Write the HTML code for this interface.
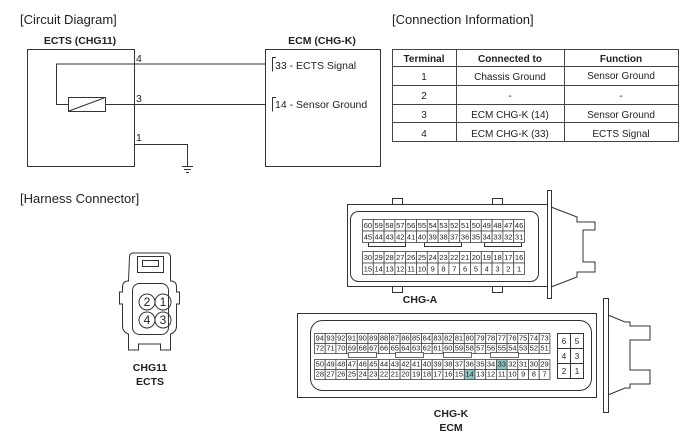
<!DOCTYPE html>
<html><head><meta charset="utf-8"><style>
html,body{margin:0;padding:0;background:#fff;}
svg{display:block;font-family:"Liberation Sans",sans-serif;}
</style></head><body>
<svg id="s" width="700" height="442" viewBox="0 0 700 442" xmlns="http://www.w3.org/2000/svg">
<g fill="#222" font-size="13">
<text x="20" y="24">[Circuit Diagram]</text>
<text x="392" y="24">[Connection Information]</text>
<text x="20" y="203">[Harness Connector]</text>
</g>
<g font-size="10.5" font-weight="bold" text-anchor="middle" fill="#222">
<text x="80" y="44">ECTS (CHG11)</text>
<text x="322" y="44">ECM (CHG-K)</text>
<text x="420" y="303">CHG-A</text>
<text x="451" y="417">CHG-K</text>
<text x="451" y="431">ECM</text>
<text x="150" y="371">CHG11</text>
<text x="150" y="385">ECTS</text>
</g>
<g stroke="#333" fill="none" stroke-width="1">
<rect x="27.5" y="49.5" width="107" height="117"/>
<rect x="265.5" y="49.5" width="115" height="117"/>
<polyline points="266,64 56.5,64 56.5,104.5 68,104.5"/>
<rect x="68.5" y="97.5" width="37" height="14"/>
<line x1="69" y1="111" x2="104" y2="98"/>
<line x1="105" y1="104.5" x2="266" y2="104.5"/>
<polyline points="134,144.5 187.5,144.5 187.5,166"/>
<line x1="182" y1="166.5" x2="193" y2="166.5"/>
<line x1="184" y1="169.5" x2="191" y2="169.5"/>
<line x1="186" y1="172.5" x2="189" y2="172.5"/>
<polyline points="276,57.5 272.5,57.5 272.5,71.5"/>
<polyline points="276,97.5 272.5,97.5 272.5,111.5"/>
</g>
<g font-size="10.5" fill="#222">
<text x="136" y="62">4</text><text x="136" y="102">3</text><text x="136" y="141">1</text>
<text x="275" y="69">33 - ECTS Signal</text>
<text x="275" y="108">14 - Sensor Ground</text>
</g>
<!-- table -->
<g stroke="#444" fill="none">
<rect x="392.5" y="49.5" width="286" height="92"/>
<line x1="392" y1="66.5" x2="678" y2="66.5"/>
<line x1="392" y1="85.5" x2="678" y2="85.5"/>
<line x1="392" y1="104.5" x2="678" y2="104.5"/>
<line x1="392" y1="122.5" x2="678" y2="122.5"/>
<line x1="456.5" y1="49" x2="456.5" y2="141"/>
<line x1="564.5" y1="49" x2="564.5" y2="141"/>
</g>
<g font-size="10" text-anchor="middle" fill="#222">
<g font-weight="bold"><text x="424" y="62">Terminal</text><text x="510" y="62">Connected to</text><text x="621" y="62">Function</text></g>
<text x="424" y="80">1</text><text x="510" y="80">Chassis Ground</text><text x="621" y="79">Sensor Ground</text>
<text x="424" y="99">2</text><text x="510" y="99">-</text><text x="621" y="99">-</text>
<text x="424" y="118">3</text><text x="510" y="118">ECM CHG-K (14)</text><text x="621" y="118">Sensor Ground</text>
<text x="424" y="137">4</text><text x="510" y="137">ECM CHG-K (33)</text><text x="621" y="137">ECTS Signal</text>
</g>
<!-- CHG11 -->
<g stroke="#333" fill="none">
<path d="M129.5,257 q0,-4 4,-4 h33 q4,0 4,4 v24 q6,0 6,6 v5 h3 v12 h-3 v22 q0,6 -6,8 v16 h-10 v-6 h-22 v6 h-10 v-16 q-6,-2 -6,-8 v-22 h-3 v-12 h3 v-5 q0,-6 6,-6 z"/>
<rect x="137.5" y="256.5" width="26" height="16"/>
<rect x="142.5" y="260.5" width="16" height="6"/>
<rect x="132.5" y="283.5" width="36" height="51" rx="7"/>
<circle cx="147" cy="302" r="8"/><circle cx="163" cy="302" r="8"/>
<circle cx="147" cy="320" r="8"/><circle cx="163" cy="320" r="8"/>
</g>
<g font-size="12" text-anchor="middle" fill="#222">
<text x="147" y="306">2</text><text x="163" y="306">1</text><text x="147" y="324">4</text><text x="163" y="324">3</text>
</g>
<!-- CHG-A -->
<g stroke="#333" fill="none">
<rect x="347.5" y="204.5" width="200" height="82"/>
<rect x="350.5" y="211.5" width="188" height="70" rx="8"/>
<rect x="392.5" y="198.5" width="10" height="6"/><rect x="492.5" y="198.5" width="10" height="6"/>
<rect x="392.5" y="286.5" width="10" height="6"/><rect x="492.5" y="286.5" width="10" height="6"/>
<rect x="547.5" y="190.5" width="4" height="108"/>
<polyline points="551,207 577,217 577,222 595,222 595,230 583,230 583,262 595,262 595,272 577,272 577,277 551,287"/>
<rect x="368.5" y="242.5" width="37" height="4"/><rect x="424.5" y="242.5" width="37" height="4"/><rect x="484.5" y="242.5" width="37" height="4"/>
</g>
<!-- CHG-K -->
<g stroke="#333" fill="none">
<rect x="297.5" y="313.5" width="299" height="84"/>
<rect x="310.5" y="320.5" width="281" height="70" rx="12"/>
<rect x="603.5" y="298.5" width="5" height="114"/>
<polyline points="608,315 625,322 630,322 630,326 650,326 650,340 630,340 630,370 650,370 650,384 630,384 630,388 625,388 608,395"/>
<rect x="557.5" y="333.5" width="26" height="45"/>
<line x1="570.5" y1="333" x2="570.5" y2="378"/>
<line x1="557" y1="348.5" x2="583" y2="348.5"/><line x1="557" y1="363.5" x2="583" y2="363.5"/>
</g>
<g font-size="8" text-anchor="middle" fill="#222">
<text x="564" y="344">6</text><text x="577" y="344">5</text>
<text x="564" y="359">4</text><text x="577" y="359">3</text>
<text x="564" y="374">2</text><text x="577" y="374">1</text>
</g>
<g id="grids"></g>
</svg>
<script>
var NS="http://www.w3.org/2000/svg",g=document.getElementById("grids");
function el(t,a,txt){var e=document.createElementNS(NS,t);for(var k in a)e.setAttribute(k,a[k]);if(txt!==undefined)e.textContent=txt;g.appendChild(e);return e;}
function grid(x0,y0,cw,ch,start,n,hl){for(var i=0;i<n;i++){var num=start-i;var x=x0+i*cw;
el("rect",{x:x+0.5,y:y0+0.5,width:cw,height:ch,fill:(hl.indexOf(num)>=0?"#8fc4c4":"#fff"),stroke:"#444","stroke-width":0.8});
el("text",{x:x+cw/2+0.5,y:y0+ch-2.5,"font-size":7.5,"text-anchor":"middle",fill:"#222"},num);}}
var aw=10.8;
grid(362,219,aw,11.5,60,15,[]);grid(362,230.5,aw,11.5,45,15,[]);
grid(362,251,aw,11.5,30,15,[]);grid(362,262.5,aw,11.5,15,15,[]);
var kw=10.7;
grid(314,333,kw,10,94,22,[]);grid(314,343,kw,10,72,22,[]);
grid(314,359,kw,10,50,22,[33]);grid(314,369,kw,10,28,22,[14]);
[348,395,443,490].forEach(function(x){el("rect",{x:x+0.5,y:352.5,width:28,height:5,fill:"#fff",stroke:"#444","stroke-width":0.8});});
</script>
</body></html>
